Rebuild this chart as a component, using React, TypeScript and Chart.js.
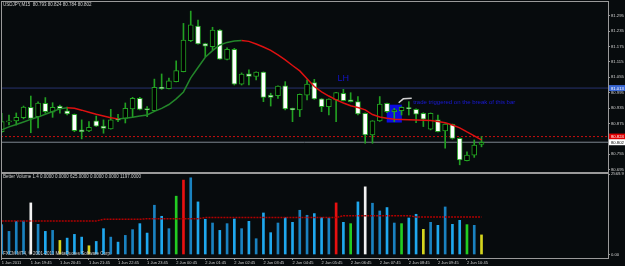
import React, { useEffect, useRef } from 'react';
import { Chart, registerables } from 'chart.js';

Chart.register(...registerables);
Chart.defaults.font.family = '"Liberation Sans", Arial, sans-serif';

// ---- data (USDJPY M15) ----
const headerText = 'USDJPY,M15  80.793 80.824 80.784 80.802';
const opens = [80.843, 80.881, 80.885, 80.898, 80.938, 80.902, 80.954, 80.919, 80.943, 80.924,
  80.911, 80.850, 80.846, 80.885, 80.865, 80.854, 80.895, 80.895, 80.932, 80.973,
  80.933, 80.925, 81.016, 81.011, 81.038, 81.077, 81.198, 81.255, 81.186, 81.174,
  81.239, 81.125, 81.164, 81.028, 81.069, 81.058, 81.075, 80.986, 80.983, 81.022,
  80.934, 80.928, 80.985, 81.034, 80.971, 80.941, 80.967, 80.993, 80.967, 80.960,
  80.915, 80.830, 80.885, 80.954, 80.921, 80.925, 80.937, 80.930, 80.915, 80.853,
  80.889, 80.846, 80.872, 80.817, 80.730, 80.752, 80.793];
const highs = [80.915, 80.908, 80.916, 80.943, 80.982, 80.959, 80.976, 80.956, 80.947, 80.939,
  80.912, 80.889, 80.882, 80.904, 80.889, 80.930, 80.911, 80.955, 80.977, 80.977,
  80.941, 81.048, 81.068, 81.052, 81.119, 81.265, 81.313, 81.278, 81.188, 81.250,
  81.241, 81.170, 81.168, 81.072, 81.084, 81.076, 81.076, 80.993, 81.022, 81.038,
  80.935, 80.990, 81.045, 81.047, 80.972, 80.971, 80.996, 81.008, 80.995, 80.980,
  80.916, 80.886, 80.980, 80.955, 80.934, 80.940, 80.960, 80.932, 80.917, 80.916,
  80.908, 80.874, 80.873, 80.819, 80.765, 80.811, 80.824];
const lows = [80.840, 80.869, 80.869, 80.893, 80.839, 80.858, 80.915, 80.899, 80.915, 80.908,
  80.843, 80.815, 80.843, 80.863, 80.837, 80.853, 80.882, 80.877, 80.899, 80.928,
  80.902, 80.925, 81.008, 81.010, 81.037, 81.076, 81.194, 81.184, 81.135, 81.161,
  81.125, 81.123, 81.025, 81.025, 81.025, 81.045, 80.960, 80.943, 80.973, 80.928,
  80.882, 80.902, 80.967, 80.969, 80.921, 80.908, 80.882, 80.963, 80.959, 80.908,
  80.798, 80.798, 80.883, 80.917, 80.882, 80.908, 80.908, 80.878, 80.863, 80.850,
  80.842, 80.779, 80.814, 80.714, 80.729, 80.743, 80.784];
const closes = [80.882, 80.885, 80.899, 80.939, 80.895, 80.955, 80.921, 80.938, 80.933, 80.912,
  80.847, 80.843, 80.860, 80.865, 80.856, 80.889, 80.888, 80.934, 80.973, 80.930,
  80.928, 81.016, 81.011, 81.041, 81.081, 81.200, 81.259, 81.185, 81.176, 81.239,
  81.126, 81.164, 81.028, 81.068, 81.058, 81.075, 80.977, 80.977, 81.021, 80.932,
  80.928, 80.989, 81.029, 80.971, 80.941, 80.970, 80.995, 80.964, 80.960, 80.912,
  80.830, 80.885, 80.951, 80.921, 80.928, 80.938, 80.933, 80.911, 80.892, 80.915,
  80.843, 80.873, 80.817, 80.733, 80.752, 80.791, 80.802];
const maValues = [80.850, 80.862, 80.871, 80.881, 80.891, 80.900, 80.911, 80.922, 80.932, 80.936,
  80.934, 80.927, 80.919, 80.911, 80.904, 80.897, 80.893, 80.895, 80.899, 80.904,
  80.908, 80.922, 80.934, 80.949, 80.971, 80.998, 81.053, 81.093, 81.133, 81.159,
  81.181, 81.191, 81.196, 81.198, 81.195, 81.185, 81.173, 81.160, 81.142, 81.123,
  81.101, 81.080, 81.049, 81.019, 80.998, 80.982, 80.967, 80.955, 80.944, 80.937,
  80.928, 80.910, 80.900, 80.895, 80.892, 80.891, 80.890, 80.889, 80.888, 80.887,
  80.883, 80.878, 80.869, 80.858, 80.842, 80.827, 80.811];
const volumes = [953, 738, 1059, 1069, 1647, 963, 738, 770, 449, 523,
  642, 555, 279, 417, 825, 555, 395, 610, 793, 985,
  684, 1573, 1220, 825, 1862, 2375, 2449, 1679, 1124, 1005,
  770, 985, 1133, 825, 1059, 504, 1326, 697, 1005, 1178,
  1027, 1412, 1252, 1306, 1178, 1165, 1647, 1027, 985, 1679,
  2160, 1637, 1390, 1499, 1005, 985, 1165, 1284, 803, 1027,
  931, 1518, 963, 1091, 953, 931, 625];
// n = normal, cd = climax down, cu = climax up, ch = churn, lo = low volume
const volTypes = ['n', 'n', 'n', 'n', 'cd', 'n', 'n', 'n', 'lo', 'n',
  'n', 'n', 'lo', 'n', 'n', 'n', 'n', 'n', 'n', 'n',
  'n', 'n', 'n', 'n', 'ch', 'cu', 'n', 'n', 'n', 'n',
  'n', 'n', 'n', 'n', 'n', 'n', 'n', 'n', 'n', 'n',
  'n', 'n', 'n', 'n', 'n', 'n', 'cu', 'n', 'ch', 'n',
  'cd', 'n', 'n', 'n', 'n', 'ch', 'n', 'n', 'lo', 'n',
  'n', 'n', 'n', 'n', 'ch', 'n', 'lo'];
const volAverage = [1070, 1070, 1070, 1070, 1070, 1070, 1070, 1070, 1070, 1070,
  1070, 1070, 1070, 1070, 1124, 1124, 1124, 1124, 1124, 1124,
  1143, 1143, 1143, 1143, 1143, 1143, 1143, 1143, 1181, 1181,
  1181, 1181, 1181, 1181, 1181, 1181, 1181, 1181, 1181, 1181,
  1181, 1181, 1181, 1181, 1181, 1181, 1181, 1240, 1240, 1240,
  1240, 1240, 1240, 1240, 1240, 1240, 1240, 1197, 1197, 1197,
  1197, 1197, 1197, 1197, 1197, 1197, 1197];
const timeLabels = ['1 Jun 2011', '1 Jun 19:45', '1 Jun 20:45', '1 Jun 21:45', '1 Jun 22:45',
  '1 Jun 23:45', '2 Jun 00:45', '2 Jun 01:45', '2 Jun 02:45', '2 Jun 03:45', '2 Jun 04:45',
  '2 Jun 05:45', '2 Jun 06:45', '2 Jun 07:45', '2 Jun 08:45', '2 Jun 09:45', '2 Jun 10:45'];
const barsPerLabel = 4;
const priceTicks = [81.295, 81.235, 81.175, 81.115, 81.055, 80.995, 80.935, 80.875, 80.815, 80.755, 80.695];
const levelPrice = 81.013;
const askPrice = 80.824;
const bidPrice = 80.802;
const triggerBar = 54;
const triggerRange = [80.880, 80.947];
const arrowPath = [{ x: 54.6, y: 80.956 }, { x: 55.24, y: 80.971 }, { x: 56.4, y: 80.973 }];
const lhNote = { x: 46.2, y: 81.052, text: 'LH' };
const tradeNote = { x: 56.6, y: 80.959, text: 'trade triggered on the break of this bar' };
const volumeLegend = 'Better Volume 1.4 0.0000 0.0000 625.0000 0.0000 0.0000 1197.0000';
const copyright = 'FXCM MT4, \u00A9 2001-2011 MetaQuotes Software Corp.';
const volTopLabel = '2569.9';
const volBottomLabel = '0.00';
const xMin = -0.1;
const xMax = 83.4;
const priceMin = 80.6821;
const priceMax = 81.3523;
const volMin = -112;
const volMax = 2570;

// ---- styles ----
const BG = '#070b0d';
const FRAME = '#9a9a9a';
const TXT = '#cfcfcf';
const CANDLE = '#22a022';
const MA_UP = '#23862a';
const MA_DOWN = '#dd1111';
const FONT = '"Liberation Sans", Arial, sans-serif';
const volColor = (t: string, i: number) => {
  if (t === 'cd') return '#f2f2f2';
  if (t === 'cu') return '#e81010';
  if (t === 'ch') return '#22cc22';
  if (t === 'lo') return '#d6d61e';
  return closes[i] >= opens[i] ? '#1a82c0' : '#1fa8ee';
};

const mainDecor = {
  id: 'mainDecor',
  afterDraw(chart: any) {
    const { ctx, chartArea: a, scales } = chart;
    const ys = scales.y, xs = scales.x;
    ctx.save();
    ctx.strokeStyle = FRAME;
    ctx.lineWidth = 1;
    ctx.strokeRect(a.left + 0.5, a.top + 0.5, a.right - a.left, a.bottom - a.top - 1);
    const box = (price: number, bg: string, fg: string) => {
      const py = ys.getPixelForValue(price);
      ctx.fillStyle = bg;
      ctx.fillRect(a.right + 1, py - 3, 16, 6);
      ctx.fillStyle = fg;
      ctx.font = '4.2px ' + FONT;
      ctx.textAlign = 'left';
      ctx.textBaseline = 'middle';
      ctx.fillText(price.toFixed(3), a.right + 3, py + 0.3);
    };
    box(levelPrice, '#3a68d4', '#ffffff');
    box(askPrice, '#e00000', '#ffffff');
    box(bidPrice, '#ffffff', '#000000');
    ctx.fillStyle = TXT;
    ctx.font = '4.5px ' + FONT;
    ctx.textAlign = 'left';
    ctx.textBaseline = 'middle';
    ctx.fillText(headerText, 3, 5);
    ctx.fillStyle = '#1414c8';
    ctx.font = '9px ' + FONT;
    ctx.fillText(lhNote.text, xs.getPixelForValue(lhNote.x), ys.getPixelForValue(lhNote.y));
    ctx.fillStyle = '#1a1ad8';
    ctx.font = '6px ' + FONT;
    ctx.fillText(tradeNote.text, xs.getPixelForValue(tradeNote.x), ys.getPixelForValue(tradeNote.y), 121);
    ctx.restore();
  },
};

const volDecor = {
  id: 'volDecor',
  afterDraw(chart: any) {
    const { ctx, chartArea: a } = chart;
    ctx.save();
    ctx.strokeStyle = FRAME;
    ctx.lineWidth = 1;
    ctx.strokeRect(a.left + 0.5, a.top - 0.5, a.right - a.left, a.bottom - a.top + 1);
    ctx.fillStyle = TXT;
    ctx.font = '4.5px ' + FONT;
    ctx.textAlign = 'left';
    ctx.textBaseline = 'middle';
    ctx.fillText(volumeLegend, 3, a.top + 3);
    ctx.fillText(copyright, 3, a.bottom - 4);
    ctx.restore();
  },
};

export default function App() {
  const mainRef = useRef<HTMLCanvasElement>(null);
  const volRef = useRef<HTMLCanvasElement>(null);

  useEffect(() => {
    document.body.style.margin = '0';
    document.body.style.background = BG;
    const idx = opens.map((_, i) => i);

    const main = new Chart(mainRef.current as HTMLCanvasElement, {
      type: 'bar',
      data: {
        datasets: [
          {
            type: 'line',
            data: maValues.map((v, i) => ({ x: i, y: v })),
            borderColor: MA_UP,
            borderWidth: 1.5,
            pointRadius: 0,
            tension: 0,
            segment: { borderColor: (c: any) => (c.p1.parsed.y < c.p0.parsed.y ? MA_DOWN : MA_UP) },
          } as any,
          {
            type: 'line',
            data: arrowPath,
            borderColor: '#cfcfcf',
            borderWidth: 1.5,
            pointRadius: 0,
          } as any,
          {
            type: 'bar',
            data: idx.map((i) => ({ x: i, y: [opens[i], closes[i]] })),
            backgroundColor: idx.map((i) => (closes[i] >= opens[i] ? '#000000' : '#ffffff')),
            borderColor: CANDLE,
            borderWidth: 1,
            borderSkipped: false,
            barThickness: 5,
            minBarLength: 1,
            grouped: false,
          } as any,
          {
            type: 'bar',
            data: idx.map((i) => ({ x: i, y: [lows[i], highs[i]] })),
            backgroundColor: CANDLE,
            barThickness: 1,
            grouped: false,
          } as any,
          {
            type: 'bar',
            data: [{ x: triggerBar, y: triggerRange }],
            backgroundColor: '#0c0ce0',
            barThickness: 14.5,
            grouped: false,
          } as any,
          {
            type: 'line',
            data: [{ x: xMin, y: bidPrice }, { x: xMax, y: bidPrice }],
            borderColor: '#7f8790',
            borderWidth: 1,
            pointRadius: 0,
          } as any,
          {
            type: 'line',
            data: [{ x: xMin, y: askPrice }, { x: xMax, y: askPrice }],
            borderColor: '#c81010',
            borderWidth: 1,
            borderDash: [2, 2],
            pointRadius: 0,
          } as any,
          {
            type: 'line',
            data: [{ x: xMin, y: levelPrice }, { x: xMax, y: levelPrice }],
            borderColor: '#28336e',
            borderWidth: 1,
            pointRadius: 0,
          } as any,
        ],
      },
      options: {
        responsive: false,
        animation: false,
        devicePixelRatio: 1,
        events: [],
        layout: { padding: { left: 1, top: 1, right: 0, bottom: 3 } },
        plugins: { legend: { display: false }, tooltip: { enabled: false } },
        scales: {
          x: { type: 'linear', min: xMin, max: xMax, display: false, offset: false },
          y: {
            type: 'linear',
            position: 'right',
            min: priceMin,
            max: priceMax,
            afterBuildTicks: (s: any) => { s.ticks = priceTicks.map((v) => ({ value: v })); },
            afterFit: (s: any) => { s.width = 17; s.paddingTop = 0; s.paddingBottom = 0; },
            ticks: {
              color: TXT,
              font: { size: 4.2, family: FONT },
              padding: 1,
              autoSkip: false,
              callback: (v: any) => Number(v).toFixed(3),
            },
            grid: { drawOnChartArea: false, drawTicks: true, tickLength: 2, color: FRAME },
            border: { display: false },
          },
        },
      } as any,
      plugins: [mainDecor],
    });

    const vol = new Chart(volRef.current as HTMLCanvasElement, {
      type: 'bar',
      data: {
        datasets: [
          {
            type: 'line',
            data: volAverage.map((v, i) => ({ x: i, y: v })),
            borderColor: '#b00000',
            borderWidth: 1.5,
            borderDash: [2, 1],
            pointRadius: 0,
          } as any,
          {
            type: 'bar',
            data: volumes.map((v, i) => ({ x: i, y: v })),
            backgroundColor: volTypes.map((t, i) => volColor(t, i)),
            barThickness: 2,
            grouped: false,
          } as any,
        ],
      },
      options: {
        responsive: false,
        animation: false,
        devicePixelRatio: 1,
        events: [],
        layout: { padding: { left: 1, top: 10, right: 0, bottom: 0 } },
        plugins: { legend: { display: false }, tooltip: { enabled: false } },
        scales: {
          x: {
            type: 'linear',
            min: xMin,
            max: xMax,
            offset: false,
            afterBuildTicks: (s: any) => { s.ticks = timeLabels.map((_, k) => ({ value: k * barsPerLabel })); },
            afterFit: (s: any) => { s.height = 8; s.paddingLeft = 0; s.paddingRight = 0; },
            ticks: {
              color: TXT,
              font: { size: 4, family: FONT },
              padding: 0.5,
              align: 'start',
              autoSkip: false,
              maxRotation: 0,
              callback: (_v: any, i: number) => timeLabels[i],
            },
            grid: { drawOnChartArea: false, drawTicks: true, tickLength: 2, color: FRAME, offset: false },
            border: { display: false },
          },
          y: {
            type: 'linear',
            position: 'right',
            min: volMin,
            max: volMax,
            afterBuildTicks: (s: any) => { s.ticks = [{ value: 2569.9 }, { value: 0 }]; },
            afterFit: (s: any) => { s.width = 17; s.paddingTop = 0; s.paddingBottom = 0; },
            ticks: {
              color: TXT,
              font: { size: 4.2, family: FONT },
              padding: 1,
              autoSkip: false,
              callback: (v: any) => (Number(v) === 0 ? volBottomLabel : volTopLabel),
            },
            grid: { drawOnChartArea: false, drawTicks: true, tickLength: 2, color: FRAME },
            border: { display: false },
          },
        },
      } as any,
      plugins: [volDecor],
    });

    return () => {
      main.destroy();
      vol.destroy();
    };
  }, []);

  return (
    <div style={{ position: 'absolute', left: 0, top: 0, width: 625, height: 266, background: BG, overflow: 'hidden' }}>
      <canvas ref={mainRef} width={625} height={176} style={{ position: 'absolute', left: 0, top: 0, width: 625, height: 176 }} />
      <canvas ref={volRef} width={625} height={102} style={{ position: 'absolute', left: 0, top: 164, width: 625, height: 102 }} />
    </div>
  );
}
